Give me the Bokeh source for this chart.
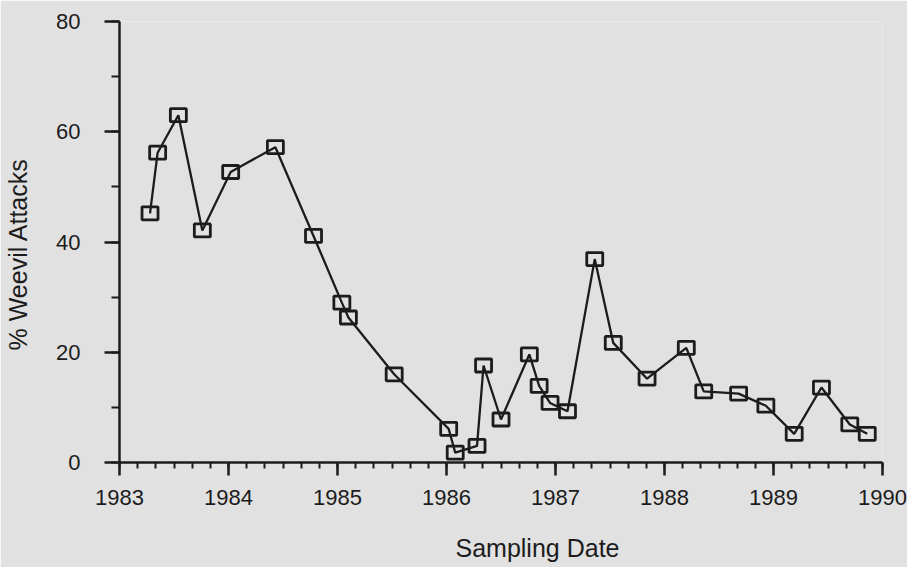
import numpy as np
from bokeh.plotting import figure
from bokeh.models import Range1d, SingleIntervalTicker, Title
from bokeh.embed import file_html
from bokeh.resources import INLINE

# ---- data ----
dates = [1983.28, 1983.35, 1983.54, 1983.76, 1984.02, 1984.43, 1984.78,
         1985.04, 1985.10, 1985.52, 1986.02, 1986.08, 1986.28, 1986.34,
         1986.50, 1986.76, 1986.85, 1986.95, 1987.11, 1987.36, 1987.53,
         1987.84, 1988.20, 1988.36, 1988.68, 1988.93, 1989.19, 1989.44,
         1989.70, 1989.86]
attacks = [45.2, 56.2, 63.0, 42.1, 52.7, 57.2, 41.1,
           29.0, 26.3, 16.0, 6.1, 1.8, 3.0, 17.6,
           7.8, 19.6, 13.9, 10.8, 9.3, 36.9, 21.7,
           15.2, 20.8, 12.9, 12.5, 10.3, 5.2, 13.6,
           6.9, 5.2]
x_tick_labels = {1983: "1983", 1984: "1984", 1985: "1985", 1986: "1986",
                 1987: "1987", 1988: "1988", 1989: "1989", 1990: "1990"}
x_title = "Sampling Date"
y_title = "% Weevil Attacks"

BG = "#e1e1e1"
INK = "#1c1c1c"
FONT = "Liberation Sans"

W, H = 907, 567
LEFT, RIGHT, TOP, BOTTOM = 119, 25, 21, 105

p = figure(width=W, height=H, output_backend="svg", toolbar_location=None,
           x_range=Range1d(1983, 1990), y_range=Range1d(0, 80),
           min_border_left=LEFT, min_border_right=RIGHT,
           min_border_top=TOP, min_border_bottom=BOTTOM,
           background_fill_color=BG, border_fill_color=BG,
           outline_line_color=None)
p.grid.visible = False

# y axis
ya = p.yaxis[0]
ya.ticker = SingleIntervalTicker(interval=20, num_minor_ticks=2)
ya.axis_line_color = INK
ya.axis_line_width = 2.5
ya.major_tick_line_color = INK
ya.major_tick_line_width = 2.5
ya.minor_tick_line_color = INK
ya.minor_tick_line_width = 2
ya.major_tick_in = 0
ya.major_tick_out = 15
ya.minor_tick_in = 0
ya.minor_tick_out = 8
ya.major_label_standoff = 24
ya.major_label_text_font = FONT
ya.major_label_text_font_size = "22px"
ya.major_label_text_color = INK
# blank spacer label: only pushes the title outward
ya.axis_label = " "
ya.axis_label_text_font_size = "1px"
ya.axis_label_standoff = 17

# x axis
xa = p.xaxis[0]
xa.ticker = SingleIntervalTicker(interval=1, num_minor_ticks=6)
xa.major_label_overrides = x_tick_labels
xa.axis_line_color = INK
xa.axis_line_width = 2.5
xa.major_tick_line_color = INK
xa.major_tick_line_width = 2.5
xa.minor_tick_line_color = INK
xa.minor_tick_line_width = 2
xa.major_tick_in = 0
xa.major_tick_out = 13
xa.minor_tick_in = 0
xa.minor_tick_out = 6
xa.major_label_standoff = 14
xa.major_label_text_font = FONT
xa.major_label_text_font_size = "22px"
xa.major_label_text_color = INK
xa.axis_label = " "
xa.axis_label_text_font_size = "1px"
xa.axis_label_standoff = 20

# series
p.line(dates, attacks, line_color=INK, line_width=2.3)
p.rect(x=dates, y=attacks, width=16, height=13,
       width_units="screen", height_units="screen",
       fill_alpha=0, line_color=INK, line_width=2.8)

# axis titles
p.add_layout(Title(text=x_title, align="left", offset=336, standoff=0,
                   text_font=FONT, text_font_size="25px",
                   text_font_style="normal", text_color=INK), "below")
p.add_layout(Title(text=y_title, align="left", offset=112, standoff=0,
                   text_font=FONT, text_font_size="25px",
                   text_font_style="normal", text_color=INK), "left")

open("out.html", "w").write(file_html(p, INLINE))
